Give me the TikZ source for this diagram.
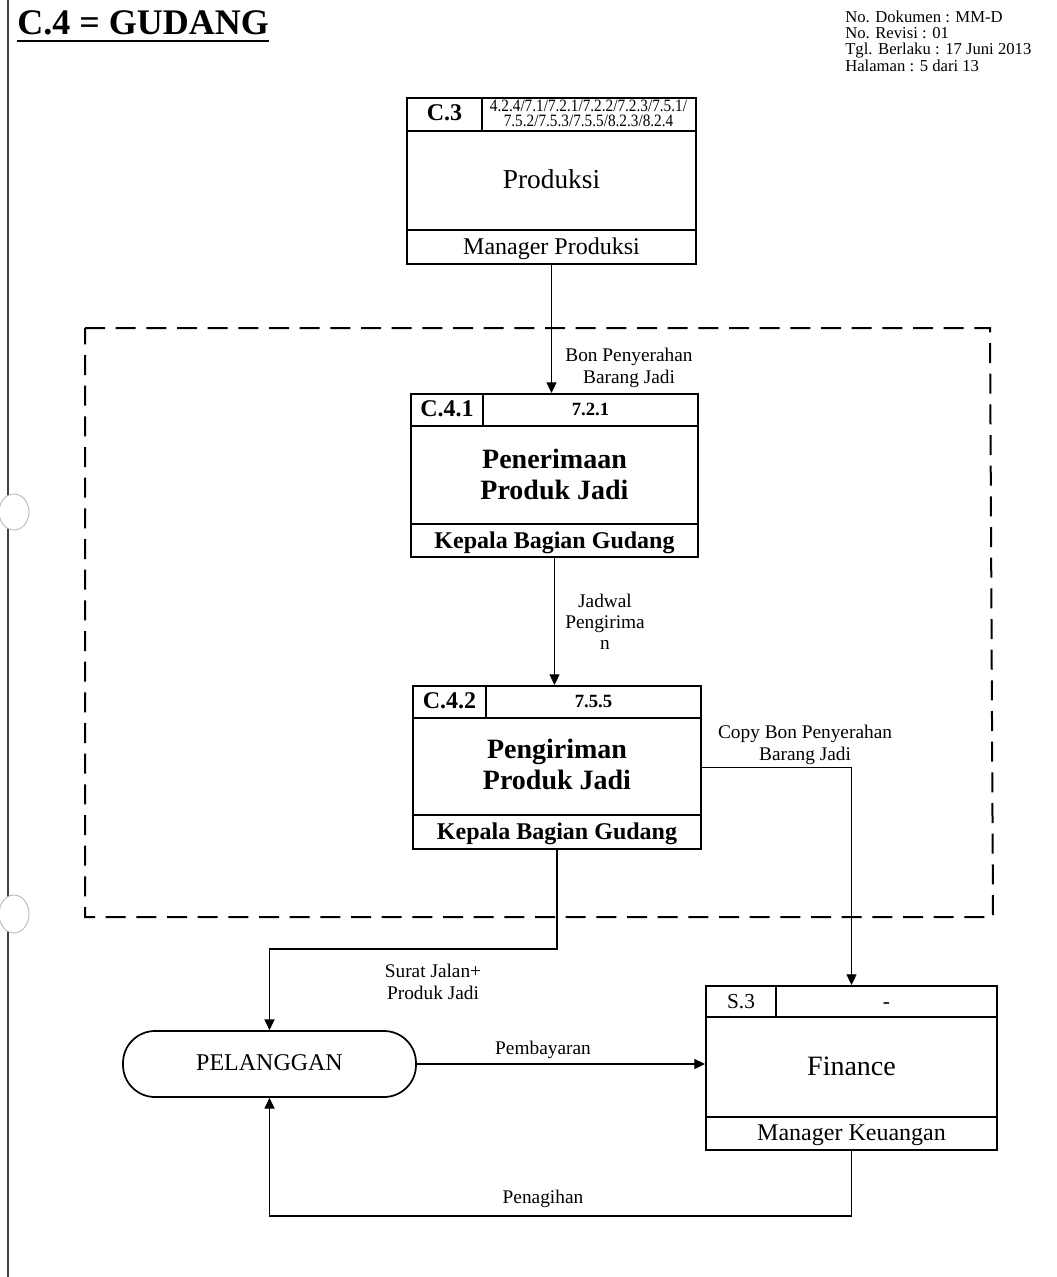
\documentclass[tikz,border=0pt]{standalone}
\usepackage{fontspec}
\setmainfont{Liberation Serif}
\usetikzlibrary{arrows.meta,fit}
\newcommand\fsz[1]{\fontsize{#1pt}{1.15\dimexpr#1pt\relax}\selectfont}
\begin{document}
\begin{tikzpicture}[x=0.75pt,y=-0.75pt,
  procbox/.style={draw, line width=1.5pt, inner sep=0pt},
  part/.style={line width=1.3pt},
  flow/.style={line width=0.8pt, -{Triangle[length=8pt,width=7.5pt]}},
  txt/.style={inner sep=0pt, anchor=base},
  lbl/.style={txt, font=\fsz{14.5}},
  idcell/.style={txt, font=\bfseries\fsz{18}},
  refcell/.style={txt, font=\bfseries\fsz{14}},
  codecell/.style={txt, font=\fsz{13}\addfontfeatures{FakeStretch=0.88}},
  title/.style={txt, font=\fsz{20.5}},
  btitle/.style={txt, font=\bfseries\fsz{21}},
  owner/.style={txt, font=\fsz{18}},
  bowner/.style={txt, font=\bfseries\fsz{18}},
  hdr/.style={txt, anchor=base west, font=\fsz{12.5}}]

% page
\fill[white] (0,0) rectangle (1056,1277);
\useasboundingbox (0,0) rectangle (1056,1277);

% binding margin and punched holes
\draw[black!75, line width=0.8pt] (8,0) -- (8,1277);
\filldraw[fill=white, draw=black!30, line width=0.6pt] (14,512) ellipse [x radius=15, y radius=18];
\filldraw[fill=white, draw=black!30, line width=0.6pt] (14,914) ellipse [x radius=15, y radius=19];

% heading
\node[txt, anchor=base west, font=\bfseries\fsz{27}] (head) at (17,35) {C.4 = GUDANG};
\draw[line width=2pt] ([yshift=-4.5pt]head.base west) -- ([yshift=-4.5pt]head.base east);

\node[hdr] (doc) at (845,23) {No. Dokumen : MM-D};
\node[hdr] (rev) at (845,38.5) {No. Revisi : 01};
\node[hdr] (tgl) at (845,55) {Tgl. Berlaku : 17 Juni 2013};
\node[hdr] (hal) at (845,72) {Halaman : 5 dari 13};

% process area (dashed)
\draw[line width=1.5pt, dash pattern=on 15pt off 8pt] (85,328) -- (990,328) -- (993,917) -- (85,917) -- cycle;

% C.3 Produksi
\node[procbox, fit={(407,98) (696,264)}] (c3) {};
\draw[part] (407,131) -- (696,131) (482,98) -- (482,131) (407,230) -- (696,230);
\node[idcell] (c3id) at (444.5,121) {C.3};
\node[codecell] (c3refa) at (588.5,111.5) {4.2.4/7.1/7.2.1/7.2.2/7.2.3/7.5.1/};
\node[codecell] (c3refb) at (588.5,127) {7.5.2/7.5.3/7.5.5/8.2.3/8.2.4};
\node[title] (c3name) at (551.5,189) {Produksi};
\node[owner] (c3own) at (551.5,254) {Manager Produksi};

% C.4.1 Penerimaan Produk Jadi
\node[procbox, fit={(411,394) (698,557)}] (c41) {};
\draw[part] (411,426) -- (698,426) (483,394) -- (483,426) (411,524) -- (698,524);
\node[idcell] (c41id) at (447,416) {C.4.1};
\node[refcell] (c41ref) at (590.5,415) {7.2.1};
\node[btitle] (c41na) at (554.5,468) {Penerimaan};
\node[btitle] (c41nb) at (554.5,499) {Produk Jadi};
\node[bowner] (c41own) at (554.5,548) {Kepala Bagian Gudang};

% C.4.2 Pengiriman Produk Jadi
\node[procbox, fit={(413,686) (701,849)}] (c42) {};
\draw[part] (413,718) -- (701,718) (486,686) -- (486,718) (413,815) -- (701,815);
\node[idcell] (c42id) at (449.5,708) {C.4.2};
\node[refcell] (c42ref) at (593.5,707) {7.5.5};
\node[btitle] (c42na) at (557,758) {Pengiriman};
\node[btitle] (c42nb) at (557,789) {Produk Jadi};
\node[bowner] (c42own) at (557,839) {Kepala Bagian Gudang};

% S.3 Finance
\node[procbox, fit={(706,986) (997,1150)}] (fin) {};
\draw[part] (706,1017) -- (997,1017) (776,986) -- (776,1017) (706,1117) -- (997,1117);
\node[txt, font=\fsz{16}] (finid) at (741,1008) {S.3};
\node[txt, font=\fsz{16}] (finref) at (886.5,1008) {-};
\node[title, font=\fsz{21}] (finname) at (851.5,1075) {Finance};
\node[owner] (finown) at (851.5,1140) {Manager Keuangan};

% PELANGGAN
\node[draw, line width=1.3pt, inner sep=0pt, rounded corners=24pt, fit={(123,1031) (416,1097)}] (pel) {};
\node[txt, font=\fsz{18}] (pelname) at (269.5,1070) {PELANGGAN};

% flows
\draw[flow] (c3.south) -- (c3.south |- c41.north);
\node[lbl] (f1a) at (629,361) {Bon Penyerahan};
\node[lbl] (f1b) at (629,383) {Barang Jadi};

\draw[flow] (c41.south) -- (c41.south |- c42.north);
\node[lbl] (f2a) at (605,607) {Jadwal};
\node[lbl] (f2b) at (605,628) {Pengirima};
\node[lbl] (f2c) at (605,649) {n};

\draw[flow] (c42.east) -| (fin.north);
\node[lbl] (f3a) at (805,738) {Copy Bon Penyerahan};
\node[lbl] (f3b) at (805,760) {Barang Jadi};

\draw[flow] (c42.south) -- ++(0,99) -| (pel.north);
\node[lbl] (f4a) at (433,977) {Surat Jalan+};
\node[lbl] (f4b) at (433,999) {Produk Jadi};

\draw[flow] (pel.east) -- (pel.east -| fin.west);
\node[lbl] (f5) at (543,1054) {Pembayaran};

\draw[flow] (fin.south) -- ++(0,65) -| (pel.south);
\node[lbl] (f6) at (543,1203) {Penagihan};

\end{tikzpicture}
\end{document}
